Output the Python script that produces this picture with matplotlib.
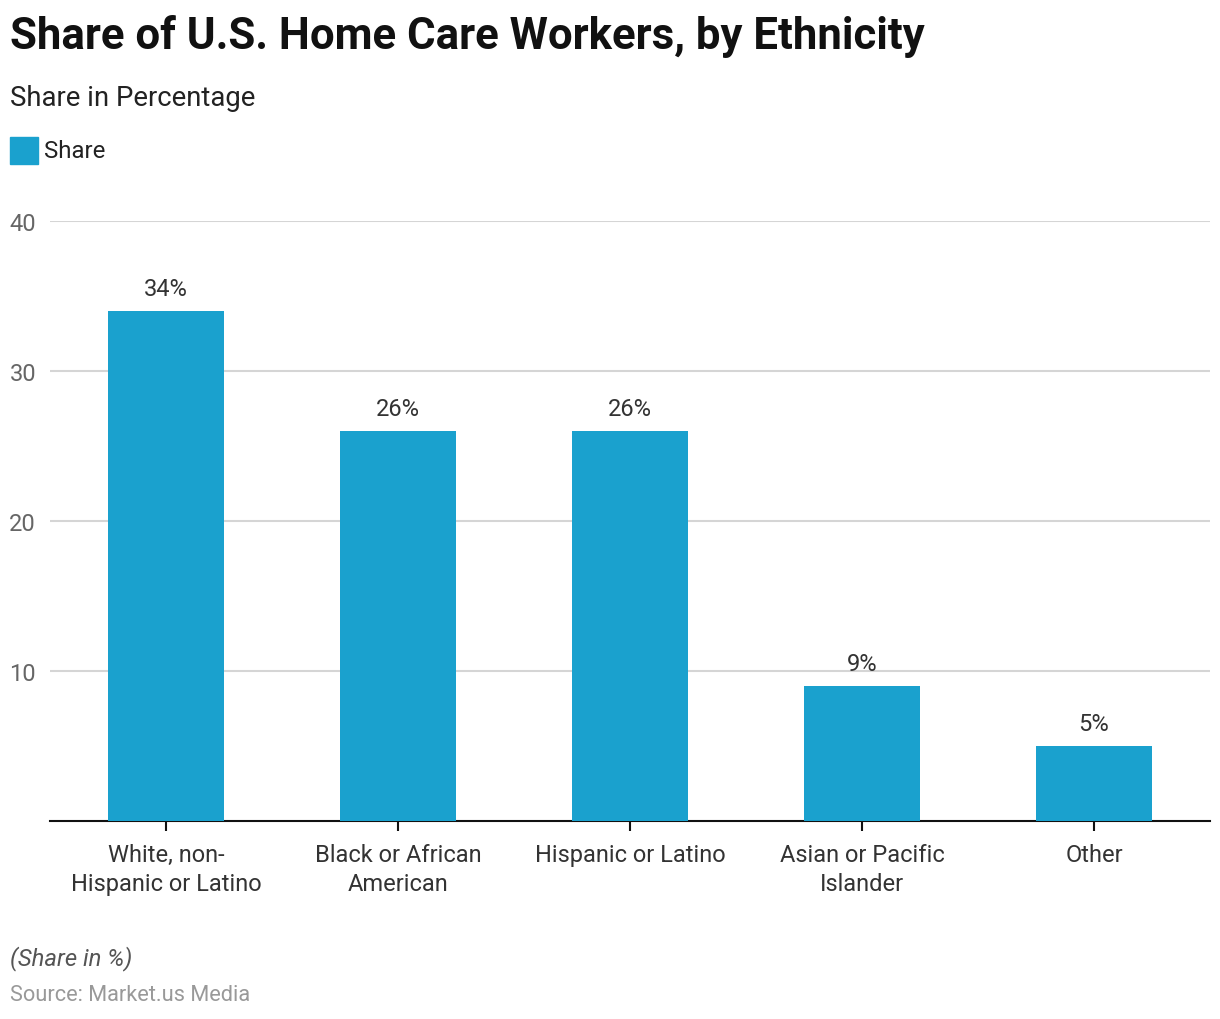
import matplotlib.pyplot as plt
from matplotlib.patches import Rectangle

plt.rcParams['font.family'] = ['Roboto', 'DejaVu Sans']

categories = ["White, non-\nHispanic or Latino", "Black or African\nAmerican",
              "Hispanic or Latino", "Asian or Pacific\nIslander", "Other"]
share = [34, 26, 26, 9, 5]
yticks = [10, 20, 30, 40]
bar_color = "#1aa1ce"

fig = plt.figure(figsize=(12.2, 10.2), dpi=100)
ax = fig.add_axes([50/1220, 1-822/1020, 1160/1220, 600/1020])

x = range(len(categories))
bars = ax.bar(x, share, width=0.5, color=bar_color, zorder=3)
for xi, v in zip(x, share):
    ax.text(xi, v + 0.75, f"{v}%", ha="center", va="bottom", fontsize=17, color="#333333")

ax.set_xlim(-0.5, 4.5)
ax.set_ylim(0, 40)
ax.set_yticks(yticks)
ax.set_xticks(list(x))
ax.set_xticklabels(categories, fontsize=17, color="#333333", linespacing=1.3)
ax.tick_params(axis="y", length=0, labelsize=17, labelcolor="#666666", pad=10)
ax.tick_params(axis="x", length=7, width=1.5, color="#111111", pad=9)
ax.grid(axis="y", color="#d5d5d5", linewidth=1.5, zorder=0)
for s in ["top", "right", "left"]:
    ax.spines[s].set_visible(False)
ax.spines["bottom"].set_linewidth(1.5)
ax.spines["bottom"].set_color("#111111")

fig.text(10/1220, 1-36/1020, "Share of U.S. Home Care Workers, by Ethnicity",
         fontsize=31.5, fontweight="bold", color="#111111", va="center")
fig.text(10/1220, 1-99/1020, "Share in Percentage", fontsize=19.8, color="#222222", va="center")
fig.patches.append(Rectangle((10/1220, 1-165/1020), 28/1220, 27/1020,
                             transform=fig.transFigure, color=bar_color))
fig.text(44/1220, 1-151/1020, "Share", fontsize=17.3, color="#222222", va="center")
fig.text(10/1220, 1-959/1020, "(Share in %)", fontsize=17.2, style="italic", color="#555555", va="center")
fig.text(10/1220, 1-996/1020, "Source: Market.us Media", fontsize=15.7, color="#999999", va="center")

fig.savefig("out.png", dpi=100)
